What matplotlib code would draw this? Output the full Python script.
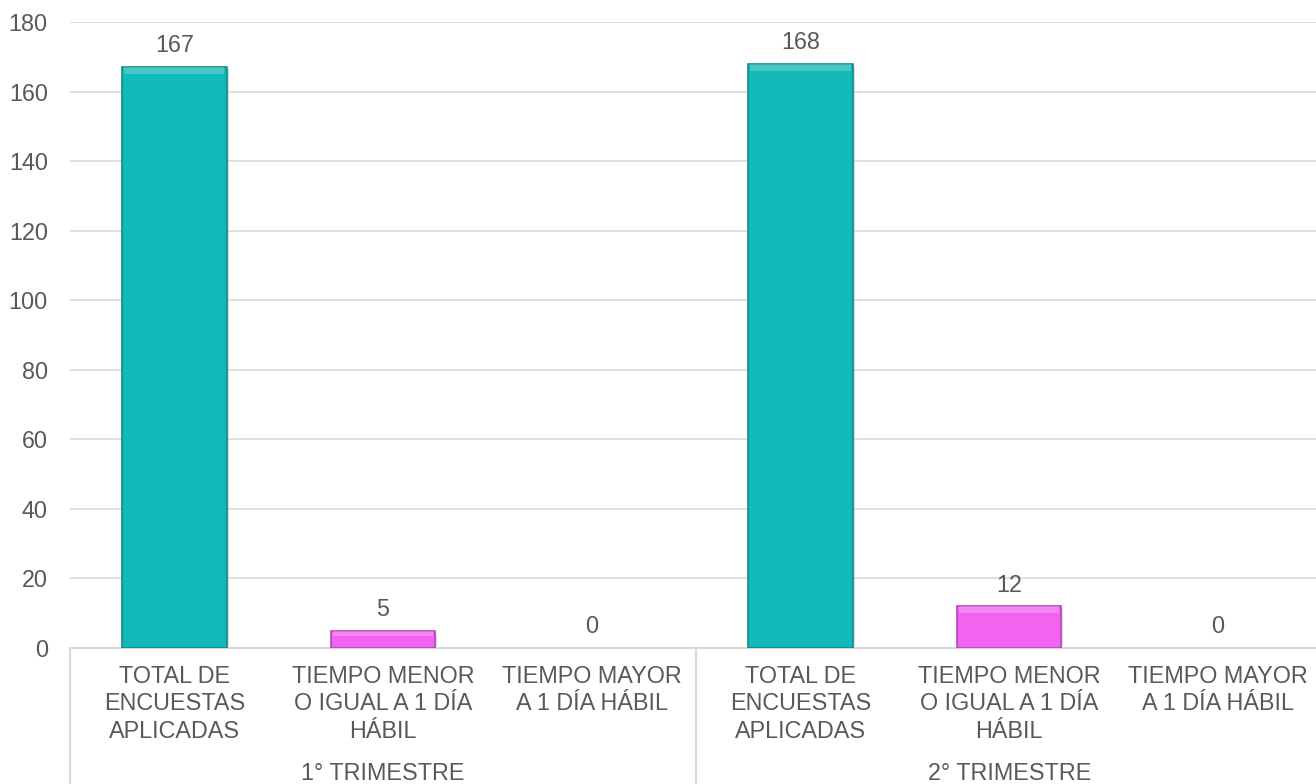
import matplotlib.pyplot as plt
import matplotlib.transforms as mtransforms

plt.rcParams['font.family'] = ['Liberation Sans', 'DejaVu Sans']

categories = ["TOTAL DE\nENCUESTAS\nAPLICADAS",
              "TIEMPO MENOR\nO IGUAL A 1 DÍA\nHÁBIL",
              "TIEMPO MAYOR\nA 1 DÍA HÁBIL"]
groups = ["1° TRIMESTRE", "2° TRIMESTRE"]
values_t1 = [167, 5, 0]
values_t2 = [168, 12, 0]
bar_colors = ["#13B9B8", "#F263EF", "#F263EF"]
edge_colors = ["#0C8C8B", "#B845B5", "#B845B5"]

text_color = "#595959"
grid_color = "#D9D9D9"
fs = 16.8

W, H = 1316, 784
fig = plt.figure(figsize=(W / 100, H / 100), dpi=100)
ax = fig.add_axes([70 / W, (H - 648) / H, 1246 / W, 626 / H])

labels = categories + categories
values = values_t1 + values_t2
colors = bar_colors + bar_colors
edges = edge_colors + edge_colors
xs = list(range(len(values)))

# shadow then bar
for x, v in zip(xs, values):
    if v > 0:
        ax.bar(x + 0.01, v, width=0.5, bottom=-0.6, color="#BFBFBF", alpha=0.5, zorder=2)
lws = [1.2 if v > 0 else 0 for v in values]
bars = ax.bar(xs, values, width=0.5, color=colors, edgecolor=edges, linewidth=lws, zorder=3)

# lighter top strip for the bevel look
for x, v in zip(xs, values):
    if v > 0:
        top = min(2.0, v * 0.3)
        ax.bar(x, top, width=0.48, bottom=v - top, color="white", alpha=0.22,
               linewidth=0, zorder=4)

for x, v in zip(xs, values):
    ax.annotate(str(v), (x, v), xytext=(0, 7), textcoords="offset points",
                ha="center", va="bottom", fontsize=fs, color=text_color)

ax.set_xlim(-0.5, 5.47)
ax.set_ylim(0, 180)
ax.set_yticks(range(0, 181, 20))
ax.yaxis.grid(True, color=grid_color, linewidth=1.2, zorder=0)
ax.set_axisbelow(True)

ax.set_xticks(xs)
ax.set_xticklabels(labels, fontsize=fs, color=text_color, linespacing=1.25)
ax.tick_params(axis="x", length=0, pad=12)
ax.tick_params(axis="y", length=0, pad=16, labelsize=fs, labelcolor=text_color)

for s in ["top", "right", "left"]:
    ax.spines[s].set_visible(False)
ax.spines["bottom"].set_color(grid_color)
ax.spines["bottom"].set_linewidth(1.5)

# multi-level axis separators and group labels
trans = mtransforms.blended_transform_factory(ax.transData, ax.transAxes)
bottom = -(H - 648) / 626
for xv in [-0.5, 2.5, 5.5]:
    ax.plot([xv, xv], [0, bottom], color=grid_color, linewidth=1.5,
            transform=trans, clip_on=False)
for i, g in enumerate(groups):
    ax.text(i * 3 + 1, -(774 - 648) / 626, g, transform=trans, ha="center",
            va="center", fontsize=fs, color=text_color)

fig.savefig("out.png", dpi=100)
